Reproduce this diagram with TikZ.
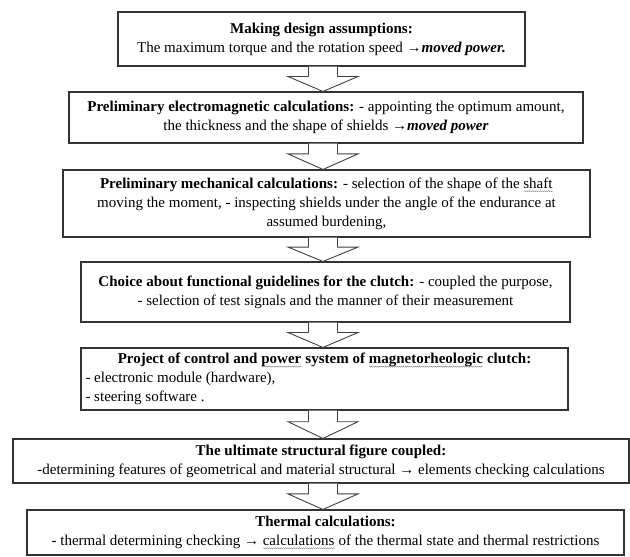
\documentclass[tikz,border=0pt]{standalone}
\usepackage{fontspec}
\setmainfont{Liberation Serif}
\usepackage{tikz}
\usetikzlibrary{calc,decorations.pathmorphing}

% spell-check squiggle under a word
\newsavebox{\sqbox}
\newcommand{\squig}[1]{\sbox{\sqbox}{#1}\rlap{\usebox{\sqbox}}%
  \tikz[baseline=0pt,x=1pt,y=1pt]\draw[black!45, line width=0.4pt,
    decorate, decoration={snake, amplitude=0.6pt, segment length=2pt}]
    (0pt,-3pt) -- (\the\wd\sqbox,-3pt);}

\newcommand{\arrowx}{323}
\newcommand{\flowarrow}[2]{%
  \draw[flowarr] let \p1=(#1.south), \p2=(#2.north),
      \n1={\y1-0.4*(\y1-\y2)} in
    (\arrowx pt-14.5pt,\y1) -- (\arrowx pt-14.5pt,\n1) -- (\arrowx pt-35pt,\n1)
    -- (\arrowx pt,\y2) -- (\arrowx pt+35pt,\n1) -- (\arrowx pt+14.5pt,\n1)
    -- (\arrowx pt+14.5pt,\y1);}

\begin{document}
\begin{tikzpicture}[x=1pt,y=-1pt,
    every node/.style={font=\fontsize{15}{19}\selectfont},
    box/.style={draw=black!80, line width=1.1pt, rectangle, inner sep=2pt, align=center},
    flowarr/.style={draw=black!75, line width=0.9pt, fill=white, line join=miter}]
      \useasboundingbox (0,0) rectangle (630,557);

      \node[box, minimum width=407, minimum height=54] (assume) at (321.5,39)
        {\textbf{Making design assumptions:}\\
         The maximum torque and the rotation speed →\textbf{\textit{moved power.}}};
      \node[box, minimum width=514, minimum height=51] (elmag) at (326,117.5)
        {\textbf{Preliminary electromagnetic calculations:} - appointing the optimum amount,\\
         the thickness and the shape of shields →\textbf{\textit{moved power}}};
      \node[box, minimum width=527, minimum height=67] (mech) at (326.5,203.5)
        {\textbf{Preliminary mechanical calculations:} - selection of the shape of the \squig{shaft}\\
         moving the moment, - inspecting shields under the angle of the endurance at\\
         assumed burdening,};
      \node[box, minimum width=489, minimum height=60] (choice) at (325.5,292)
        {\textbf{Choice about functional guidelines for the clutch:} - coupled the purpose,\\
         - selection of test signals and the manner of their measurement};
      \node[box, minimum width=487, minimum height=62] (control) at (324.5,379)
        {\parbox{478pt}{\centering\textbf{Project of control and \squig{power} system of \squig{magnetorheologic} clutch:}\par
         \raggedright - electronic module (hardware),\\
         - steering software .}};
      \node[box, minimum width=616, minimum height=44] (struct) at (321,461)
        {\textbf{The ultimate structural figure coupled:}\\
         -determining features of geometrical and material structural → elements checking calculations};
      \node[box, minimum width=597, minimum height=45] (thermal) at (325.5,532.5)
        {\textbf{Thermal calculations:}\\
         - thermal determining checking → \squig{calculations} of the thermal state and thermal restrictions};

      \flowarrow{assume}{elmag}
      \flowarrow{elmag}{mech}
      \flowarrow{mech}{choice}
      \flowarrow{choice}{control}
      \flowarrow{control}{struct}
      \flowarrow{struct}{thermal}
    \end{tikzpicture}
\end{document}
